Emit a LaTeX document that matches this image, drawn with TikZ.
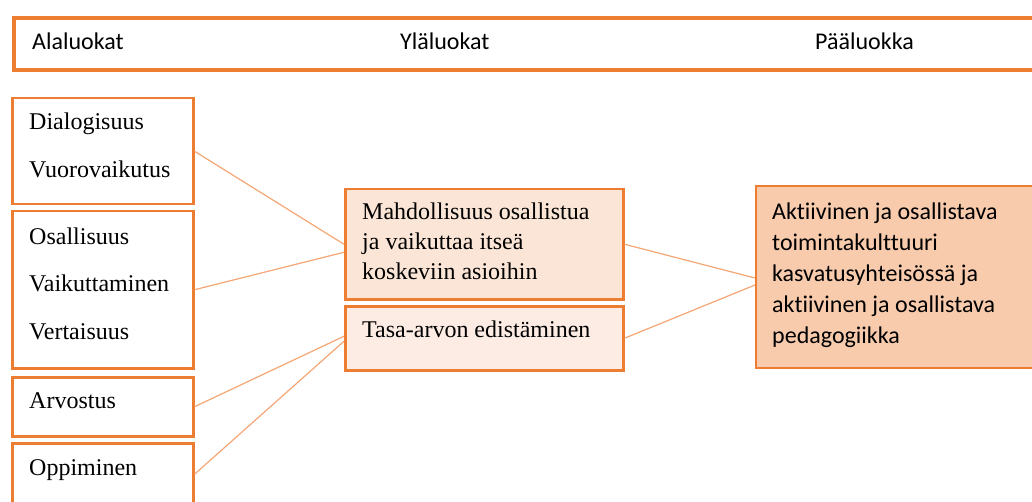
\documentclass[tikz,border=0pt]{standalone}
\usepackage{fontspec}
\setmainfont{Liberation Serif}
\newfontfamily\calibfont[Ligatures=NoCommon]{Carlito}
\usepackage{xcolor}
\usetikzlibrary{positioning}
\definecolor{oranssi}{HTML}{ED7D31}
\definecolor{persikka}{HTML}{FBE5D6}
\definecolor{vaalea}{HTML}{FCECE3}
\definecolor{lohi}{HTML}{F8CBAD}
\definecolor{viiva}{HTML}{F4A674}

\begin{document}
\begin{tikzpicture}
	[x=1pt,y=-1pt,
	box/.style={draw=oranssi,line width=2.5pt,anchor=north west,inner sep=0pt},
	txt/.style={anchor=north west,inner sep=0pt,align=left,
		font=\fontsize{24}{30}\selectfont,execute at begin node=\strut},
	otsikko/.style={anchor=north west,inner sep=0pt,
		font=\calibfont\fontsize{24}{30}\selectfont,execute at begin node=\strut},
	yhteys/.style={draw=viiva,line width=1.2pt}]
	\useasboundingbox (0,0) rectangle (1032,502);
	% otsikkorivi
	\node[box,line width=4pt,minimum width=1033pt,minimum height=52pt] (head) at (12,16) {};
	\node[otsikko] (ala) at (32,28) {Alaluokat};
	\node[otsikko] (yla) at (400,28) {Yläluokat};
	\node[otsikko] (paa) at (815,28) {Pääluokka};
	% alaluokat
	\node[box,minimum width=181pt,minimum height=106pt] (b1) at (11,97) {};
	\node[box,minimum width=181pt,minimum height=157pt] (b2) at (11,210) {};
	\node[box,minimum width=181pt,minimum height=59pt] (b3) at (11,376) {};
	\node[box,minimum width=181pt,minimum height=62pt] (b4) at (11,442) {};
	\node[txt] (t1) at (29,113) {Dialogisuus\\[18pt]Vuorovaikutus};
	\node[txt] (t2) at (29,228) {Osallisuus\\[17pt]Vaikuttaminen\\[18pt]Vertaisuus};
	\node[txt] (t3) at (29,387) {Arvostus};
	\node[txt] (t4) at (29,454) {Oppiminen};
	% yläluokat
	\node[box,fill=persikka,minimum width=278pt,minimum height=110pt] (m1) at (344,188) {};
	\node[box,fill=vaalea,minimum width=278pt,minimum height=64pt] (m2) at (344,305) {};
	\node[txt] (s1) at (362,203) {Mahdollisuus osallistua\\ja vaikuttaa itseä\\koskeviin asioihin};
	\node[txt] (s2) at (362,316) {Tasa-arvon edistäminen};
	% pääluokka
	\node[box,line width=2pt,fill=lohi,minimum width=300pt,minimum height=182pt] (p) at (755,185) {};
	\node[txt,font=\calibfont\fontsize{24}{31}\selectfont] (p1) at (772,203)
		{Aktiivinen ja osallistava\\toimintakulttuuri\\kasvatusyhteisössä ja\\aktiivinen ja osallistava\\pedagogiikka};
	% yhteydet
	\draw[yhteys] (b1.east) -- (m1.west);
	\draw[yhteys] (b2.east) -- ([yshift=-8pt]m1.west);
	\draw[yhteys] (b3.east) -- ([yshift=2pt]m2.west);
	\draw[yhteys] (b4.east) -- ([yshift=-3pt]m2.west);
	\draw[yhteys] (m1.east) -- ([yshift=-1pt]p.west);
	\draw[yhteys] (m2.east) -- ([yshift=-8pt]p.west);
\end{tikzpicture}
\end{document}
